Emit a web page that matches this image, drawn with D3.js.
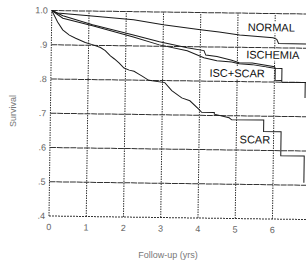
<!DOCTYPE html>
<html><head><meta charset="utf-8">
<script src="https://cdn.jsdelivr.net/npm/d3@7"></script>
<style>html,body{margin:0;padding:0;background:#fff;}svg{display:block;font-family:"Liberation Sans",Arial,sans-serif;}</style>
</head><body><svg id="c" width="306" height="264"></svg>
<script>
const xTicks = [0, 1, 2, 3, 4, 5, 6];
const xTickLabels = ["0", "1", "2", "3", "4", "5", "6"];
const yTicks = [1.0, 0.9, 0.8, 0.7, 0.6, 0.5, 0.4];
const yTickLabels = ["1.0", ".9", ".8", ".7", ".6", ".5", ".4"];

const normalYrs  = [0, 0.15, 1.0, 2.2, 3.0, 4.0, 4.5, 5.05, 5.95, 6.05, 6.1, 6.9];
const normalSurv = [1.0, 0.993, 0.986, 0.976, 0.963, 0.95, 0.944, 0.936, 0.929, 0.925, 0.913, 0.912];

const ischemiaYrs  = [0, 0.3, 1.1, 2.2, 2.9, 3.65, 4.1, 4.15, 4.45, 4.85, 5.05, 5.4, 6.0, 6.02, 6.02, 6.2];
const ischemiaSurv = [1.0, 0.985, 0.96, 0.932, 0.913, 0.897, 0.889, 0.876, 0.872, 0.862, 0.855, 0.855, 0.845, 0.84, 0.805, 0.805];

const iscScarYrs  = [0, 0.3, 1.1, 2.2, 2.9, 3.65, 4.1, 4.45, 4.85, 5.05, 5.4, 6.0, 6.2, 6.2, 6.83, 6.83];
const iscScarSurv = [1.0, 0.978, 0.957, 0.926, 0.904, 0.888, 0.868, 0.86, 0.857, 0.852, 0.85, 0.84, 0.84, 0.80, 0.80, 0.755];

const scarYrs  = [0, 0.16, 0.3, 0.48, 0.65, 0.91, 1.1, 1.32, 1.45, 1.59, 1.7, 1.83, 1.96, 2.1, 2.23, 2.37, 2.45, 2.63, 3.06, 3.25, 3.52, 3.74, 3.98, 4.06, 4.4, 4.4, 4.8, 4.87, 5.73, 5.73, 6.2, 6.2, 6.83, 6.83];
const scarSurv = [1.0, 0.967, 0.944, 0.929, 0.92, 0.908, 0.902, 0.894, 0.885, 0.87, 0.861, 0.849, 0.835, 0.829, 0.826, 0.817, 0.812, 0.80, 0.794, 0.771, 0.75, 0.742, 0.718, 0.709, 0.709, 0.704, 0.694, 0.688, 0.689, 0.655, 0.655, 0.585, 0.585, 0.507];

const seriesNames = ["NORMAL", "ISCHEMIA", "ISC+SCAR", "SCAR"];
const labelYrs  = [5.9, 5.95, 5.0, 5.5];
const labelSurv = [0.948, 0.868, 0.813, 0.62];

const svg = d3.select("#c");
const x = d3.scaleLinear().domain([0, 6.9]).range([49, 306]);
const y = d3.scaleLinear().domain([0.4, 1.0]).range([216, 10.5]);

const g = svg.append("g").attr("transform", "rotate(0.78,49,216)");

// horizontal gridlines
g.selectAll("line.h").data(yTicks).enter().append("line")
  .attr("x1", x(0)).attr("x2", x(6.9))
  .attr("y1", d => y(d)).attr("y2", d => y(d))
  .attr("stroke", "#333").attr("stroke-width", 1).attr("stroke-dasharray", d => d === 0.4 ? "2,1" : "6,0.8");
// vertical gridlines
g.selectAll("line.v").data(xTicks).enter().append("line")
  .attr("x1", d => x(d)).attr("x2", d => x(d))
  .attr("y1", y(0.4)).attr("y2", y(1.0))
  .attr("stroke", "#333").attr("stroke-width", 1).attr("stroke-dasharray", "1.5,1");

// tick labels
g.selectAll("text.yt").data(yTicks).enter().append("text")
  .attr("x", 45).attr("y", d => y(d) + 3)
  .attr("text-anchor", "end").attr("font-size", 9).attr("fill", "#666")
  .text((d, i) => yTickLabels[i]);
g.selectAll("text.xt").data(xTicks).enter().append("text")
  .attr("x", d => x(d)).attr("y", 230)
  .attr("text-anchor", "middle").attr("font-size", 9).attr("fill", "#666")
  .text((d, i) => xTickLabels[i]);

const line = d3.line().x(d => x(d[0])).y(d => y(d[1]));
const series = [
  d3.zip(normalYrs, normalSurv),
  d3.zip(ischemiaYrs, ischemiaSurv),
  d3.zip(iscScarYrs, iscScarSurv),
  d3.zip(scarYrs, scarSurv)
];
g.selectAll("path.s").data(series).enter().append("path")
  .attr("d", line).attr("fill", "none").attr("stroke", "#1a1a1a").attr("stroke-width", 1);

// curve labels with white background
seriesNames.forEach((name, i) => {
  const t = g.append("text")
    .attr("x", x(labelYrs[i])).attr("y", y(labelSurv[i]))
    .attr("text-anchor", "middle").attr("font-size", 11).attr("fill", "#111")
    .text(name);
  const b = t.node().getBBox();
  g.insert("rect", () => t.node())
    .attr("x", b.x - 1).attr("y", b.y).attr("width", b.width + 2).attr("height", b.height)
    .attr("fill", "#fff");
});

// axis titles
svg.append("text").attr("transform", "translate(16,111) rotate(-90)")
  .attr("text-anchor", "middle").attr("font-size", 9).attr("fill", "#777").text("Survival");
svg.append("text").attr("x", 168).attr("y", 258)
  .attr("text-anchor", "middle").attr("font-size", 9).attr("fill", "#777").text("Follow-up (yrs)");
</script></body></html>
